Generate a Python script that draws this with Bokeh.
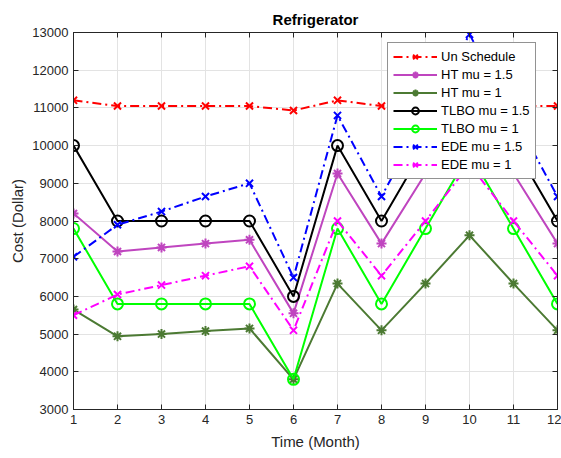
from bokeh.plotting import figure
from bokeh.models import (LinearAxis, FixedTicker, Range1d, Legend, LegendItem,
                          CustomJSTickFormatter)
from bokeh.embed import file_html
from bokeh.resources import INLINE

# Monthly cost of the refrigerator load under each scheduling method
months = [1, 2, 3, 4, 5, 6, 7, 8, 9, 10, 11, 12]
un_schedule = [11200, 11050, 11050, 11050, 11050, 10930, 11200, 11050, 11050, 11050, 11050, 11050]
ht_mu_15 = [8200, 7190, 7300, 7400, 7500, 5550, 9260, 7400, 9260, 11100, 9260, 7400]
ht_mu_1 = [5650, 4940, 5000, 5080, 5150, 3800, 6340, 5100, 6340, 7620, 6340, 5100]
tlbo_mu_15 = [10000, 8000, 8000, 8000, 8000, 6000, 10000, 8000, 10000, 12000, 10000, 8000]
tlbo_mu_1 = [7800, 5800, 5800, 5800, 5800, 3800, 7800, 5800, 7800, 9800, 7800, 5800]
ede_mu_15 = [7050, 7900, 8250, 8650, 9000, 6500, 10800, 8650, 10800, 12950, 10800, 8650]
ede_mu_1 = [5500, 6050, 6300, 6550, 6800, 5100, 8000, 6550, 8000, 9500, 8000, 6550]

x_ticks = months
y_ticks = [3000, 4000, 5000, 6000, 7000, 8000, 9000, 10000, 11000, 12000, 13000]

FONT = "Liberation Sans"
AX = "#262626"
DASHDOT = "9 4 2 4"

p = figure(width=561, height=458, output_backend="svg", toolbar_location=None,
           x_range=Range1d(1, 12), y_range=Range1d(3000, 13000),
           min_border_left=73, min_border_right=4, min_border_top=32, min_border_bottom=49)

p.title.text = "Refrigerator"
p.title.align = "center"
p.title.text_font = FONT
p.title.text_font_size = "15px"
p.title.text_font_style = "bold"
p.title.text_color = "black"
p.title.offset = -6

p.xaxis.axis_label = "Time (Month)"
p.yaxis.axis_label = "Cost (Dollar)"
for ax in (p.xaxis[0], p.yaxis[0]):
    ax.axis_label_text_font = FONT
    ax.axis_label_text_font_size = "15px"
    ax.axis_label_text_font_style = "normal"
    ax.axis_label_text_color = AX
    ax.major_label_text_font = FONT
    ax.major_label_text_font_size = "13px"
    ax.major_label_text_color = AX
    ax.axis_line_color = AX
    ax.major_tick_line_color = AX
    ax.major_tick_in = 5
    ax.major_tick_out = 0
    ax.minor_tick_line_color = None
    ax.major_label_standoff = 5
p.xaxis[0].axis_label_standoff = 6
p.yaxis[0].axis_label_standoff = 3
p.xaxis[0].ticker = FixedTicker(ticks=x_ticks)
p.yaxis[0].ticker = FixedTicker(ticks=y_ticks)

# mirrored tick marks on the top and right edges of the box, without labels
blank = CustomJSTickFormatter(code="return ''")
top_axis = LinearAxis(ticker=FixedTicker(ticks=x_ticks), formatter=blank,
                      major_tick_in=5, major_tick_out=0, minor_tick_line_color=None,
                      axis_line_color=AX, major_tick_line_color=AX, major_label_standoff=0)
right_axis = LinearAxis(ticker=FixedTicker(ticks=y_ticks), formatter=blank,
                        major_tick_in=5, major_tick_out=0, minor_tick_line_color=None,
                        axis_line_color=AX, major_tick_line_color=AX, major_label_standoff=0)
p.add_layout(top_axis, "above")
p.add_layout(right_axis, "right")

p.xgrid.ticker = FixedTicker(ticks=x_ticks)
p.ygrid.ticker = FixedTicker(ticks=y_ticks)
p.grid.grid_line_color = "#e3e3e3"
p.grid.grid_line_width = 1
p.outline_line_color = AX
p.background_fill_color = "white"
p.border_fill_color = "white"

series = [
    ("Un Schedule", un_schedule, "#ff0000", DASHDOT, "x"),
    ("HT mu = 1.5", ht_mu_15, "#bf45bf", "solid", "asterisk"),
    ("HT mu = 1", ht_mu_1, "#4c7a33", "solid", "asterisk"),
    ("TLBO mu = 1.5", tlbo_mu_15, "#000000", "solid", "circle"),
    ("TLBO mu = 1", tlbo_mu_1, "#00ff00", "solid", "circle"),
    ("EDE mu = 1.5", ede_mu_15, "#0000ff", DASHDOT, "x"),
    ("EDE mu = 1", ede_mu_1, "#ff00ff", DASHDOT, "x"),
]

items = []
for label, vals, color, dash, marker in series:
    ln = p.line(months, vals, line_color=color, line_width=2, line_dash=dash)
    size = 11 if marker == "circle" else 10
    mk = p.scatter(months, vals, marker=marker, size=size, line_color=color,
                   line_width=2, fill_alpha=0)
    items.append(LegendItem(label=label, renderers=[ln, mk]))

legend = Legend(items=items, location=(314, 230))
legend.label_text_font = FONT
legend.label_text_font_size = "13px"
legend.label_text_color = "black"
legend.glyph_width = 44
legend.glyph_height = 17
legend.label_height = 17
legend.spacing = 1
legend.padding = 5
legend.margin = 0
legend.label_standoff = 4
legend.border_line_color = AX
legend.border_line_width = 1
legend.background_fill_color = "white"
legend.background_fill_alpha = 1
p.add_layout(legend, "center")

open("out.html", "w").write(file_html(p, INLINE))
